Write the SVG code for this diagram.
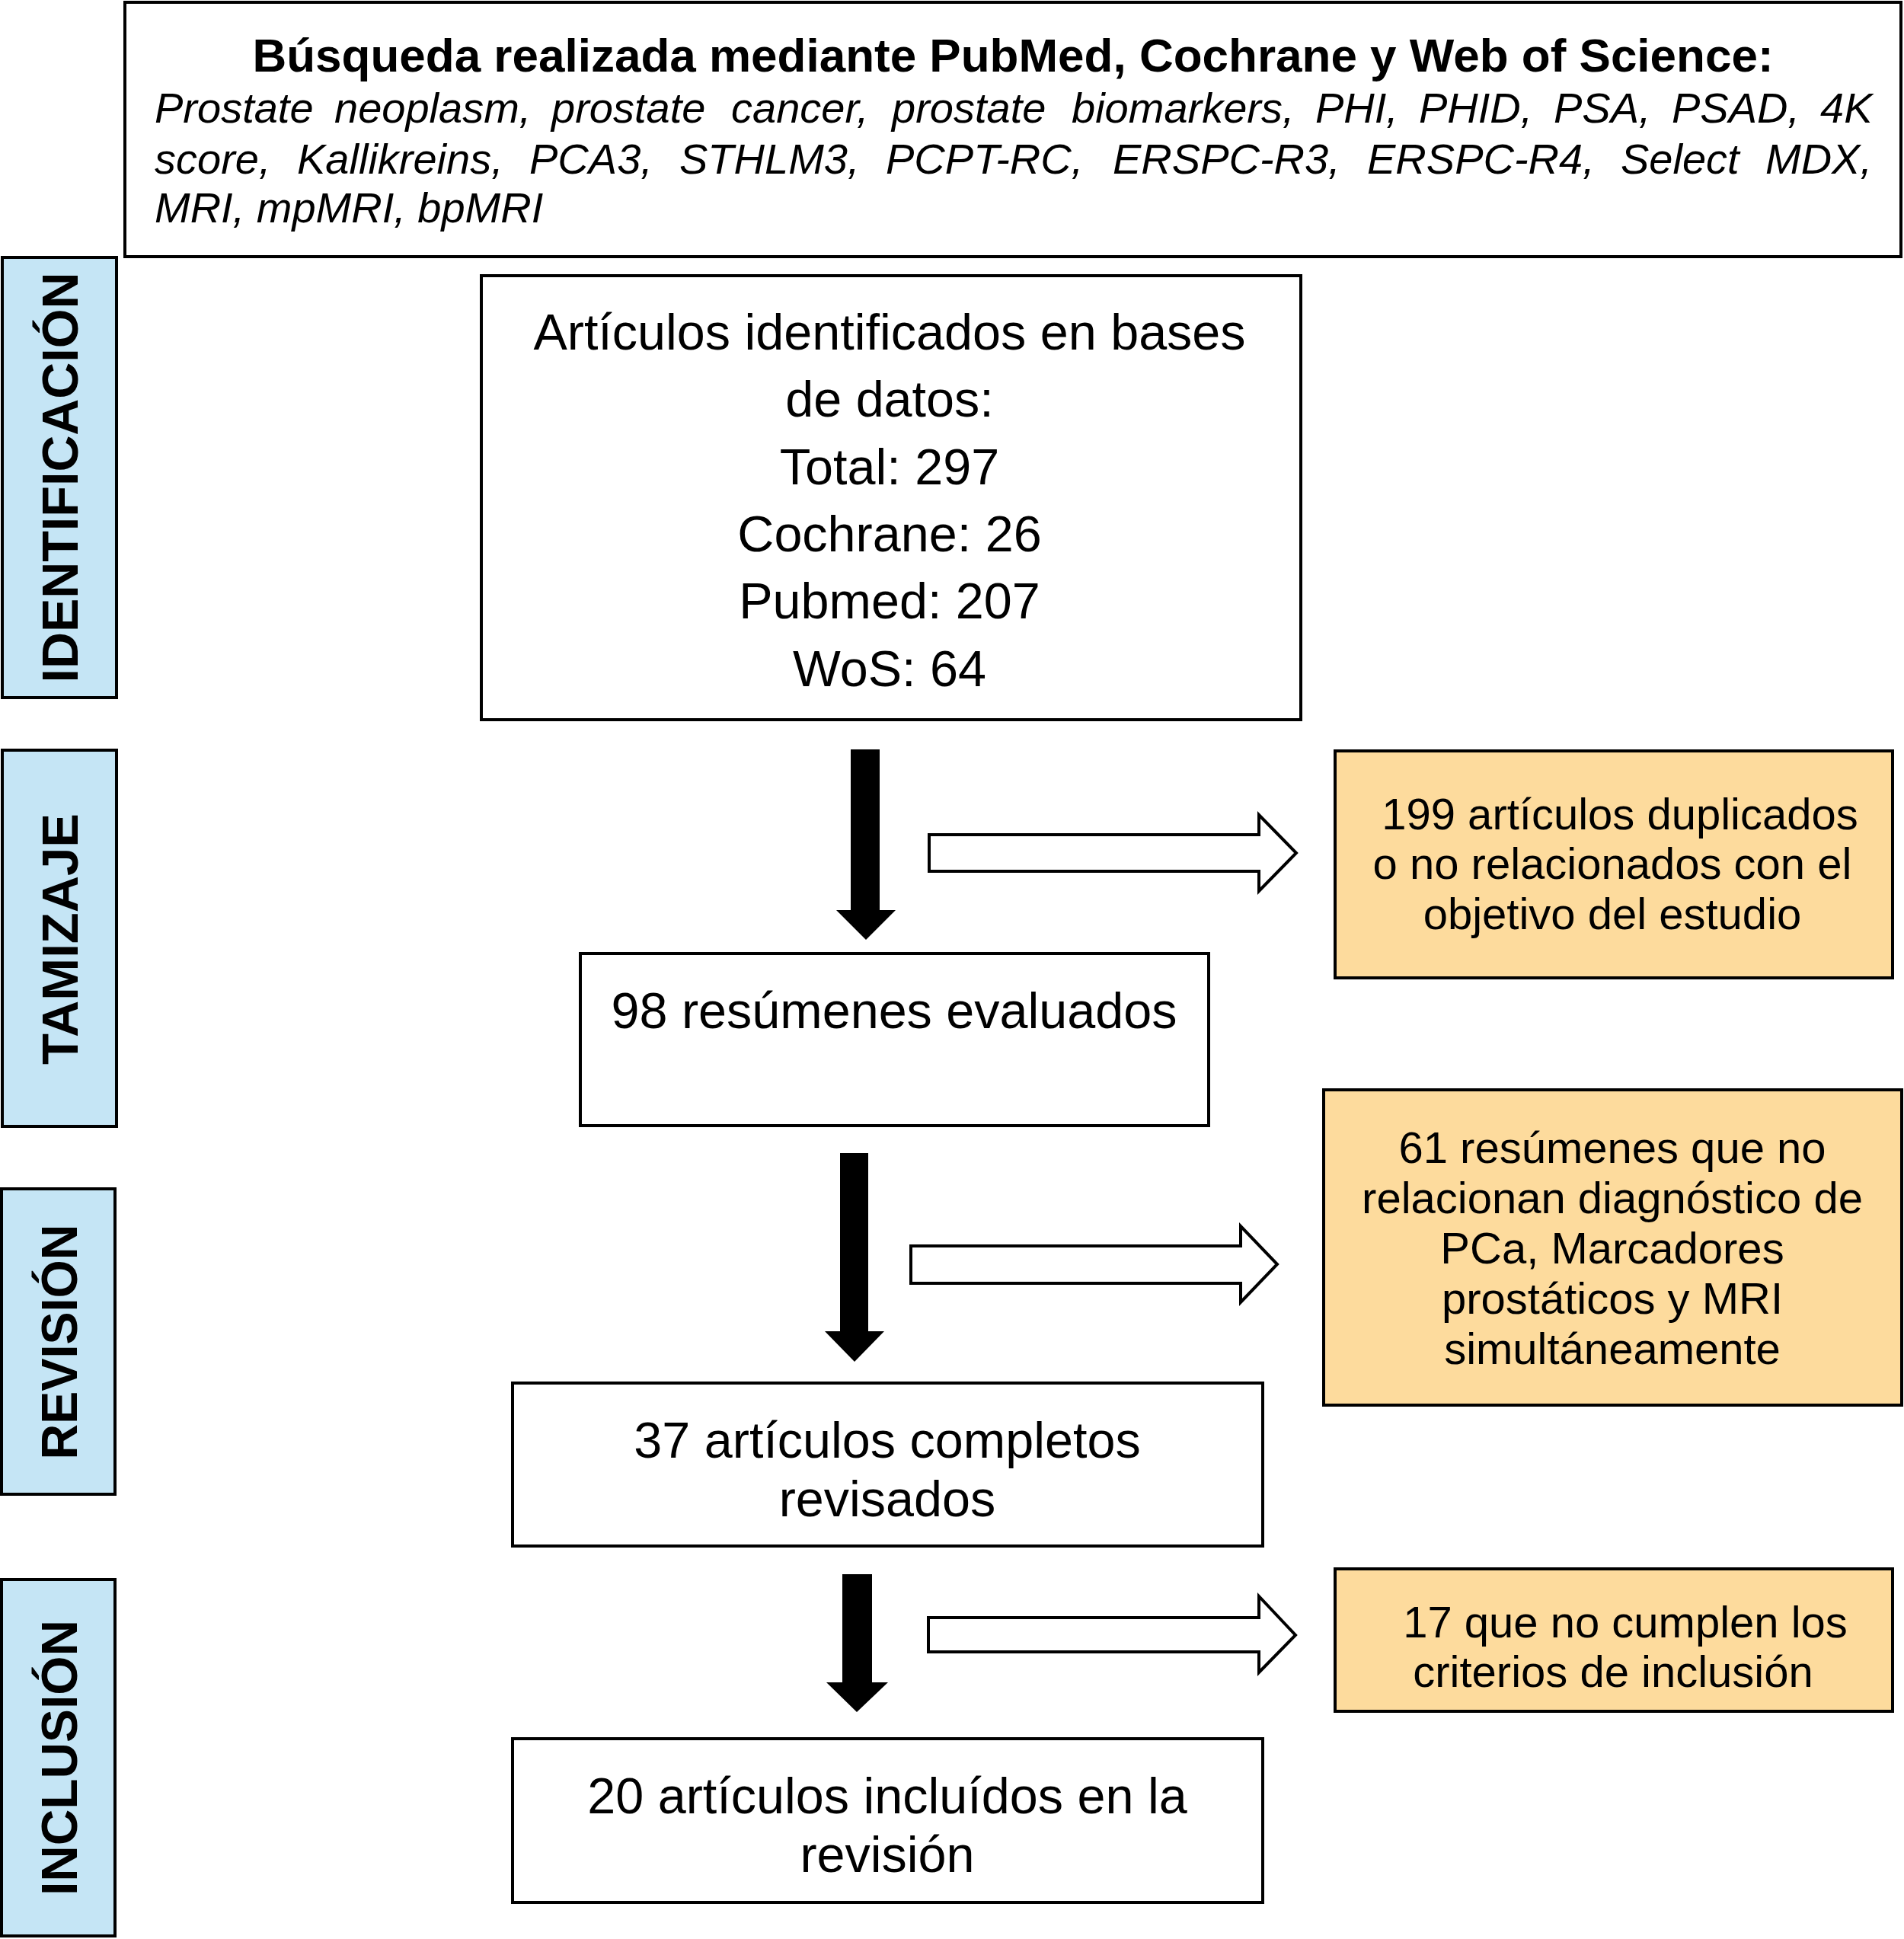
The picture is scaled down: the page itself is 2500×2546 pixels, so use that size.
<svg xmlns="http://www.w3.org/2000/svg" width="2500" height="2546" viewBox="0 0 2500 2546">
<style>
  .box{fill:#ffffff;stroke:#000000;stroke-width:4}
  .orange{fill:#FDDB9D;stroke:#000000;stroke-width:4}
  .side{fill:#C5E5F5;stroke:#000000;stroke-width:4}
  .t{font-family:"Liberation Sans",Arial,sans-serif;fill:#000000}
  .big{font-size:66.5px;text-anchor:middle}
  .mid{font-size:58px;text-anchor:middle}
  .title{font-size:62px;font-weight:bold;text-anchor:middle}
  .it{font-size:56px;font-style:italic}
  .lab{font-size:66px;font-weight:bold;text-anchor:middle}
  .solid{fill:#000000;stroke:none}
  .hollow{fill:#ffffff;stroke:#000000;stroke-width:4;stroke-linejoin:miter}
</style>
<rect width="2500" height="2546" fill="#ffffff"/>

<g id="search">
  <rect class="box" x="164" y="3" width="2332" height="334"/>
  <text class="t title" x="1330" y="94">Búsqueda realizada mediante PubMed, Cochrane y Web of Science:</text>
  <text class="t it" y="161"><tspan x="203">Prostate</tspan><tspan x="439">neoplasm,</tspan><tspan x="724">prostate</tspan><tspan x="960">cancer,</tspan><tspan x="1171">prostate</tspan><tspan x="1407">biomarkers,</tspan><tspan x="1727">PHI,</tspan><tspan x="1863">PHID,</tspan><tspan x="2040">PSA,</tspan><tspan x="2195">PSAD,</tspan><tspan x="2390">4K</tspan></text>
  <text class="t it" y="228"><tspan x="203">score,</tspan><tspan x="390">Kallikreins,</tspan><tspan x="695">PCA3,</tspan><tspan x="892">STHLM3,</tspan><tspan x="1163">PCPT-RC,</tspan><tspan x="1461">ERSPC-R3,</tspan><tspan x="1795">ERSPC-R4,</tspan><tspan x="2128">Select</tspan><tspan x="2318">MDX,</tspan></text>
  <text class="t it" x="203" y="292">MRI, mpMRI, bpMRI</text>
</g>

<g id="label-identificacion">
  <rect class="side" x="3" y="338" width="150" height="578"/>
  <text class="t lab" transform="translate(102,627) rotate(-90)" x="0" y="0" textLength="539" lengthAdjust="spacingAndGlyphs">IDENTIFICACIÓN</text>
</g>
<g id="label-tamizaje">
  <rect class="side" x="3" y="985" width="150" height="494"/>
  <text class="t lab" transform="translate(102,1233) rotate(-90)" x="0" y="0" textLength="330" lengthAdjust="spacingAndGlyphs">TAMIZAJE</text>
</g>
<g id="label-revision">
  <rect class="side" x="2" y="1561" width="149" height="401"/>
  <text class="t lab" transform="translate(101,1762) rotate(-90)" x="0" y="0" textLength="309" lengthAdjust="spacingAndGlyphs">REVISIÓN</text>
</g>
<g id="label-inclusion">
  <rect class="side" x="2" y="2074" width="149" height="468"/>
  <text class="t lab" transform="translate(101,2308) rotate(-90)" x="0" y="0" textLength="362" lengthAdjust="spacingAndGlyphs">INCLUSIÓN</text>
</g>

<g id="identified">
  <rect class="box" x="632" y="362" width="1076" height="583"/>
  <text class="t big" x="1168" y="459">Artículos identificados en bases</text>
  <text class="t big" x="1168" y="547">de datos:</text>
  <text class="t big" x="1168" y="636">Total: 297</text>
  <text class="t big" x="1168" y="724">Cochrane: 26</text>
  <text class="t big" x="1168" y="812">Pubmed: 207</text>
  <text class="t big" x="1168" y="901">WoS: 64</text>
</g>

<g id="excluded-duplicates">
  <rect class="orange" x="1753" y="986" width="732" height="298"/>
  <text class="t mid" x="2127" y="1089">199 artículos duplicados</text>
  <text class="t mid" x="2117" y="1154">o no relacionados con el</text>
  <text class="t mid" x="2117" y="1220">objetivo del estudio</text>
</g>

<g id="abstracts">
  <rect class="box" x="762" y="1252" width="825" height="226"/>
  <text class="t big" x="1174" y="1350">98 resúmenes evaluados</text>
</g>

<g id="excluded-abstracts">
  <rect class="orange" x="1738" y="1431" width="759" height="414"/>
  <text class="t mid" x="2117" y="1527">61 resúmenes que no</text>
  <text class="t mid" x="2117" y="1593">relacionan diagnóstico de</text>
  <text class="t mid" x="2117" y="1659">PCa, Marcadores</text>
  <text class="t mid" x="2117" y="1725">prostáticos y MRI</text>
  <text class="t mid" x="2117" y="1791">simultáneamente</text>
</g>

<g id="fulltext">
  <rect class="box" x="673" y="1816" width="985" height="214"/>
  <text class="t big" x="1165" y="1914">37 artículos completos</text>
  <text class="t big" x="1165" y="1991">revisados</text>
</g>

<g id="excluded-criteria">
  <rect class="orange" x="1753" y="2060" width="732" height="187"/>
  <text class="t mid" x="2134" y="2150">17 que no cumplen los</text>
  <text class="t mid" x="2118" y="2215">criterios de inclusión</text>
</g>

<g id="included">
  <rect class="box" x="673" y="2283" width="985" height="215"/>
  <text class="t big" x="1165" y="2381">20 artículos incluídos en la</text>
  <text class="t big" x="1165" y="2458">revisión</text>
</g>

<g id="connectors">
  <polygon class="solid" points="1117,984 1155,984 1155,1195 1176,1195 1137,1234 1098,1195 1117,1195"/>
  <polygon class="hollow" points="1220,1096 1653,1096 1653,1070 1702,1120 1653,1170 1653,1144 1220,1144"/>
  <polygon class="solid" points="1103,1514 1140,1514 1140,1748 1161,1748 1122,1788 1083,1748 1103,1748"/>
  <polygon class="hollow" points="1196,1636 1629,1636 1629,1610 1677,1660 1629,1710 1629,1685 1196,1685"/>
  <polygon class="solid" points="1106,2067 1145,2067 1145,2209 1166,2209 1125,2248 1085,2209 1106,2209"/>
  <polygon class="hollow" points="1219,2124 1653,2124 1653,2096 1701,2147 1653,2196 1653,2169 1219,2169"/>
</g>
</svg>
